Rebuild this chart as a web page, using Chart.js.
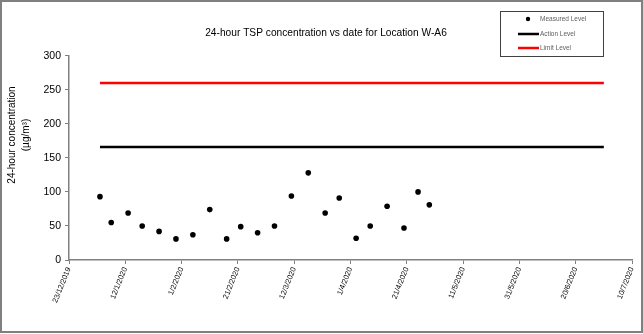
<!DOCTYPE html>
<html>
<head>
<meta charset="utf-8">
<script src="https://cdn.jsdelivr.net/npm/chart.js@4.4.0/dist/chart.umd.min.js"></script>
<style>
  html, body { margin: 0; padding: 0; background: #fff; }
</style>
</head>
<body>
<canvas id="chart-tsp" width="643" height="334"></canvas>
<script>
// Sampling dates and 24-hour TSP readings (µg/m³)
const sampleDates = [
  '3/1/2020', '7/1/2020', '13/1/2020', '18/1/2020', '24/1/2020', '30/1/2020',
  '5/2/2020', '11/2/2020', '17/2/2020', '22/2/2020', '28/2/2020', '5/3/2020',
  '11/3/2020', '17/3/2020', '23/3/2020', '28/3/2020', '3/4/2020', '8/4/2020',
  '14/4/2020', '20/4/2020', '25/4/2020', '29/4/2020',
];
const measuredLevel = [93, 55, 69, 50, 42, 31, 37, 74, 31, 49, 40, 50, 94, 128, 69, 91, 32, 50, 79, 47, 100, 81];

const levelDates = ['3/1/2020', '30/6/2020'];
const actionLevel = [166, 166];
const limitLevel = [260, 260];

const xAxisStart = '23/12/2019';
const xAxisEnd = '10/7/2020';
const xTickStepDays = 20;
const yTicks = [0, 50, 100, 150, 200, 250, 300];

const chartTitle = '24-hour TSP concentration vs date for Location W-A6';
const yTitle = ['24-hour concentration', '(µg/m³)'];

const FONT = "'Liberation Sans', Arial, sans-serif";
const DAY_MS = 86400000;

function toUTC(text) {
  const [d, m, y] = text.split('/').map(Number);
  return Date.UTC(y, m - 1, d);
}

function toDay(text) {
  return Math.round((toUTC(text) - toUTC(xAxisStart)) / DAY_MS);
}

function dayLabel(day) {
  const d = new Date(toUTC(xAxisStart) + day * DAY_MS);
  return `${d.getUTCDate()}/${d.getUTCMonth() + 1}/${d.getUTCFullYear()}`;
}

function pairs(dates, values) {
  return dates.map((t, i) => ({ x: toDay(t), y: values[i] }));
}

// frame, titles and the boxed legend are drawn by hand like the original sheet
const decorPlugin = {
  id: 'decor',
  beforeDraw(chart) {
    const ctx = chart.ctx;
    ctx.save();
    ctx.fillStyle = '#fff';
    ctx.fillRect(0, 0, chart.width, chart.height);
    ctx.restore();
  },
  afterDraw(chart) {
    const ctx = chart.ctx;
    ctx.save();

    ctx.strokeStyle = '#808080';
    ctx.lineWidth = 2;
    ctx.strokeRect(1, 1, chart.width - 2, chart.height - 3);

    // chart title
    ctx.fillStyle = '#000';
    ctx.font = `10.2px ${FONT}`;
    ctx.textAlign = 'center';
    ctx.textBaseline = 'middle';
    ctx.fillText(chartTitle, 326, 33);

    // y axis title
    ctx.translate(0, 135);
    ctx.rotate(-Math.PI / 2);
    ctx.font = `10px ${FONT}`;
    ctx.fillText(yTitle[0], 0, 12);
    ctx.fillText(yTitle[1], 0, 26);
    ctx.setTransform(1, 0, 0, 1, 0, 0);

    // legend
    ctx.strokeStyle = '#404040';
    ctx.lineWidth = 1;
    ctx.strokeRect(500.5, 11.5, 103, 45);
    ctx.font = `6.5px ${FONT}`;
    ctx.textAlign = 'left';
    const rows = [19, 34, 48];
    chart.data.datasets.forEach((ds, i) => {
      const y = rows[i];
      if (ds.showLine) {
        ctx.strokeStyle = ds.borderColor;
        ctx.lineWidth = 2.5;
        ctx.beginPath();
        ctx.moveTo(518, y);
        ctx.lineTo(539, y);
        ctx.stroke();
      } else {
        ctx.fillStyle = ds.backgroundColor;
        ctx.beginPath();
        ctx.arc(528, y, 2.2, 0, Math.PI * 2);
        ctx.fill();
      }
      ctx.fillStyle = '#606060';
      ctx.fillText(ds.label, 540, y);
    });

    ctx.restore();
  },
};

const axisGrid = {
  drawOnChartArea: false,
  drawTicks: true,
  tickLength: 4,
  color: '#808080',
};

new Chart(document.getElementById('chart-tsp'), {
  type: 'scatter',
  data: {
    datasets: [
      {
        label: 'Measured Level',
        data: pairs(sampleDates, measuredLevel),
        showLine: false,
        pointRadius: 2.8,
        pointBackgroundColor: '#000',
        pointBorderWidth: 0,
        backgroundColor: '#000',
        borderColor: '#000',
      },
      {
        label: 'Action Level',
        data: pairs(levelDates, actionLevel),
        showLine: true,
        pointRadius: 0,
        borderColor: '#000',
        borderWidth: 2.5,
      },
      {
        label: 'Limit Level',
        data: pairs(levelDates, limitLevel),
        showLine: true,
        pointRadius: 0,
        borderColor: '#ff0000',
        borderWidth: 2.5,
      },
    ],
  },
  options: {
    responsive: false,
    animation: false,
    devicePixelRatio: 1,
    layout: { padding: { left: 0, right: 11, top: 55.7, bottom: 0 } },
    plugins: {
      legend: { display: false },
      tooltip: { enabled: false },
      title: { display: false },
    },
    scales: {
      x: {
        type: 'linear',
        min: 0,
        max: toDay(xAxisEnd),
        afterBuildTicks: (scale) => {
          const ticks = [];
          for (let d = 0; d <= toDay(xAxisEnd); d += xTickStepDays) ticks.push({ value: d });
          scale.ticks = ticks;
        },
        afterFit: (scale) => { scale.height = 74; },
        grid: axisGrid,
        border: { color: '#808080', width: 1.5 },
        ticks: {
          autoSkip: false,
          minRotation: 68,
          maxRotation: 68,
          padding: 2,
          color: '#000',
          font: { family: FONT, size: 7.5 },
          callback: (val) => dayLabel(val),
        },
      },
      y: {
        min: yTicks[0],
        max: yTicks[yTicks.length - 1],
        afterBuildTicks: (scale) => { scale.ticks = yTicks.map((v) => ({ value: v })); },
        afterFit: (scale) => { scale.width = 69; },
        grid: axisGrid,
        border: { color: '#808080', width: 1.5 },
        ticks: {
          padding: 4,
          color: '#000',
          font: { family: FONT, size: 10.5 },
        },
      },
    },
  },
  plugins: [decorPlugin],
});
</script>
</body>
</html>
